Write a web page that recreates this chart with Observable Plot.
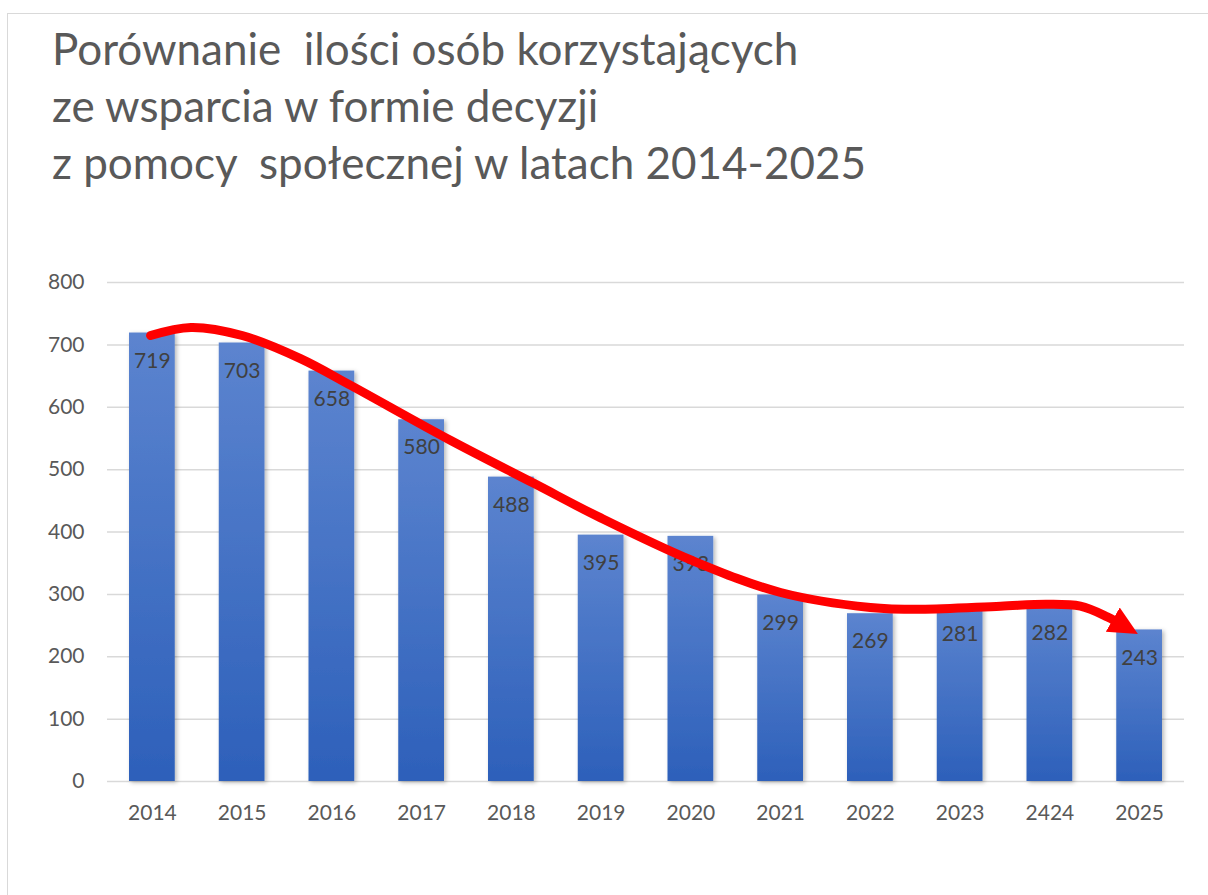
<!DOCTYPE html>
<html>
<head>
<meta charset="utf-8">
<script src="https://cdn.jsdelivr.net/npm/d3@7"></script>
<script src="https://cdn.jsdelivr.net/npm/@observablehq/plot@0.6"></script>
<style>
  html, body { margin: 0; padding: 0; background: #fff; overflow: hidden; width: 1208px; height: 895px; }
  #frame { position: absolute; left: 7px; top: 13px; width: 1300px; height: 1000px;
           border-left: 1.5px solid #d9d9d9; border-top: 1.5px solid #d9d9d9; }
  #title { position: absolute; left: 52px; top: 20px; font-family: Lato, sans-serif; font-size: 44px;
           line-height: 57px; color: #595959; white-space: pre; }
  #chart { position: absolute; left: 0; top: 240px; }
</style>
</head>
<body>
<div id="frame"></div>
<div id="title"></div>
<div id="chart"></div>
<script>
const titleLines = [
  "Porównanie  ilości osób korzystających",
  "ze wsparcia w formie decyzji",
  "z pomocy  społecznej w latach 2014-2025"
];
const years = ["2014","2015","2016","2017","2018","2019","2020","2021","2022","2023","2424","2025"];
const values = [719, 703, 658, 580, 488, 395, 393, 299, 269, 281, 282, 243];
const yTicks = [0, 100, 200, 300, 400, 500, 600, 700, 800];
// hand-drawn red trend arrow (x in category-index units, y in data units)
const trendX = [0.48, 0.93, 1.5, 2.15, 2.71, 3.82, 4.75, 5.49, 6.52, 7.5, 8.5, 9.06, 9.95, 10.47, 10.84, 11.14, 11.22];
const trendY = [715, 728, 715, 678, 635, 547, 478, 423, 354, 303, 279, 276, 281, 284, 281, 264, 258];

document.getElementById("title").textContent = titleLines.join("\n");

const data = years.map((year, i) => ({year, i, value: values[i]}));
const trend = trendX.map((x, k) => ({x, y: trendY[k]}));

const chart = Plot.plot({
  width: 1208,
  height: 620,
  marginTop: 42,
  marginBottom: 79,
  marginLeft: 107,
  marginRight: 24,
  style: {fontFamily: "Lato, sans-serif", fontSize: "21px", color: "#595959", background: "transparent"},
  x: {
    type: "linear",
    domain: [0, years.length],
    ticks: years.map((_, i) => i + 0.5),
    tickFormat: d => years[Math.floor(d)],
    tickSize: 0,
    tickPadding: 24,
    label: null
  },
  y: {
    domain: [0, 800],
    ticks: yTicks,
    tickSize: 0,
    tickPadding: 23,
    label: null
  },
  marks: [
    Plot.ruleY(yTicks, {stroke: "#d9d9d9", strokeWidth: 1.5}),
    Plot.rectY(data, {x1: d => d.i, x2: d => d.i + 1, y: "value", insetLeft: 22, insetRight: 22, fill: "url(#barGrad)"}),
    Plot.text(data, {x: d => d.i + 0.5, y: "value", text: d => String(d.value), dy: 28, fill: "#404040", fontSize: 21}),
    Plot.line(trend, {x: "x", y: "y", stroke: "#ff0000", strokeWidth: 9, curve: "catmull-rom"})
  ]
});

const svg = d3.select(chart);
const defs = svg.insert("defs", ":first-child");
const grad = defs.append("linearGradient").attr("id", "barGrad")
  .attr("x1", 0).attr("y1", 0).attr("x2", 0).attr("y2", 1);
grad.append("stop").attr("offset", "0%").attr("stop-color", "#5c84cf");
grad.append("stop").attr("offset", "100%").attr("stop-color", "#2d60ba");
const shadow = defs.append("filter").attr("id", "barShadow")
  .attr("x", "-20%").attr("y", "-5%").attr("width", "150%").attr("height", "115%");
shadow.append("feDropShadow").attr("dx", 2).attr("dy", 1.5).attr("stdDeviation", 2)
  .attr("flood-color", "#000").attr("flood-opacity", 0.28);
const marker = defs.append("marker").attr("id", "arrowHead")
  .attr("markerUnits", "userSpaceOnUse").attr("orient", "auto")
  .attr("viewBox", "0 -16 32 32").attr("markerWidth", 32).attr("markerHeight", 32)
  .attr("refX", 2).attr("refY", 0);
marker.append("path").attr("d", "M0,-14L29,0L0,14Z").attr("fill", "#ff0000");

svg.select('g[fill="url(#barGrad)"]').attr("filter", "url(#barShadow)");
svg.select('g[stroke="#ff0000"] path').attr("marker-end", "url(#arrowHead)");

document.getElementById("chart").appendChild(chart);
</script>
</body>
</html>
